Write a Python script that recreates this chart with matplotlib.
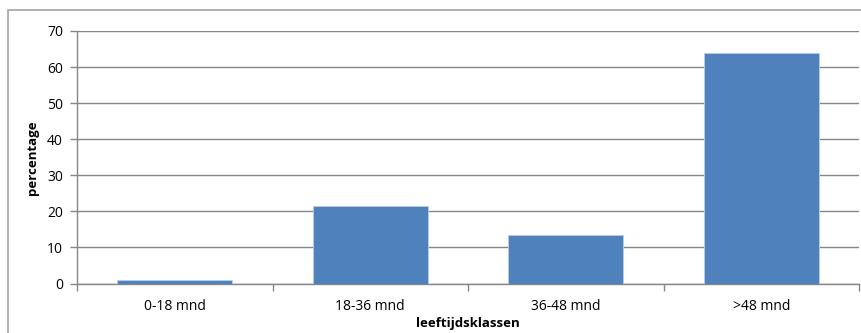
import matplotlib
matplotlib.use("Agg")
import matplotlib.pyplot as plt
from matplotlib.patches import Rectangle

# age classes and share of animals per class (%)
categories = ["0-18 mnd", "18-36 mnd", "36-48 mnd", ">48 mnd"]
percentages = [1.1, 21.4, 13.4, 64.0]
yticks = [0, 10, 20, 30, 40, 50, 60, 70]

plt.rcParams["font.family"] = ["Open Sans", "DejaVu Sans"]

fig = plt.figure(figsize=(8.61, 3.33), dpi=100)
W, H = 861, 333

# outer chart frame (cropped on the right and bottom)
fig.patches.append(Rectangle((8 / W, -0.1), 2.0, 1 - 10 / H + 0.1,
                             transform=fig.transFigure, fill=False,
                             edgecolor="#a6a6a6", linewidth=1.2))

ax = fig.add_axes([77 / W, 1 - 283.5 / H, (859 - 77) / W, (283.5 - 31) / H])

x = range(len(categories))
ax.bar(x, percentages, width=0.59, color="#4f81bd", edgecolor="#b9cde5",
       linewidth=0.6, zorder=3)

ax.set_xlim(-0.5, len(categories) - 0.5)
ax.set_ylim(0, 70)
ax.set_yticks(yticks)
ax.set_yticklabels([str(t) for t in yticks], fontsize=10)
ax.set_xticks(list(x))
ax.set_xticklabels(categories, fontsize=10)
# category separators as minor ticks
ax.set_xticks([i + 0.5 for i in range(-1, len(categories))], minor=True)
ax.tick_params(axis="x", which="major", length=0, pad=11)
ax.tick_params(axis="x", which="minor", length=5, color="#868686", width=1)
ax.tick_params(axis="y", length=5, color="#868686", width=1, pad=5)

ax.grid(axis="y", color="#868686", linewidth=1, zorder=0)
for side in ["top", "right"]:
    ax.spines[side].set_visible(False)
for side in ["left", "bottom"]:
    ax.spines[side].set_color("#868686")
    ax.spines[side].set_linewidth(1)

ax.set_ylabel("percentage", fontsize=9.5, fontweight="bold", labelpad=6)
ax.set_xlabel("leeftijdsklassen", fontsize=9.5, fontweight="bold", labelpad=2)

fig.savefig("out.png", dpi=100)
